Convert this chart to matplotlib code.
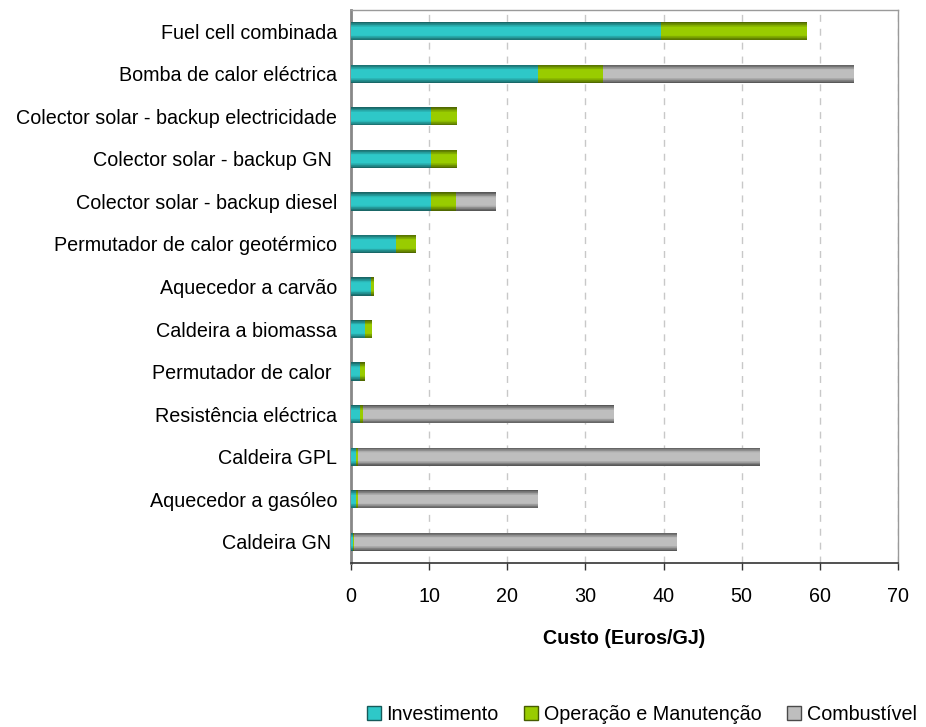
import numpy as np
import matplotlib
matplotlib.use("Agg")
import matplotlib.pyplot as plt
from matplotlib.patches import Patch
from matplotlib.colors import to_rgb

plt.rcParams['font.family'] = ['Liberation Sans', 'DejaVu Sans']

categories = [
    "Fuel cell combinada",
    "Bomba de calor eléctrica",
    "Colector solar - backup electricidade",
    "Colector solar - backup GN ",
    "Colector solar - backup diesel",
    "Permutador de calor geotérmico",
    "Aquecedor a carvão",
    "Caldeira a biomassa",
    "Permutador de calor ",
    "Resistência eléctrica",
    "Caldeira GPL",
    "Aquecedor a gasóleo",
    "Caldeira GN ",
]
investimento = [39.7, 23.9, 10.3, 10.3, 10.3, 5.7, 2.6, 1.85, 1.15, 1.1, 0.7, 0.7, 0.2]
operacao = [18.6, 8.4, 3.3, 3.3, 3.2, 2.6, 0.35, 0.85, 0.65, 0.4, 0.2, 0.17, 0.17]
combustivel = [0.0, 32.1, 0.0, 0.0, 5.0, 0.0, 0.0, 0.0, 0.0, 32.2, 51.5, 23.1, 41.3]
series_names = ["Investimento", "Operação e Manutenção", "Combustível"]
x_ticks = [0, 10, 20, 30, 40, 50, 60, 70]
x_label = "Custo (Euros/GJ)"

# (dark edge, light centre)
shades = [("#165A5A", "#2EC8C8"), ("#465C00", "#99CC00"), ("#4A4A4A", "#BEBEBE")]

FS = 14.2
fig = plt.figure(figsize=(9.26, 7.27), dpi=100)
ax = fig.add_axes([351/926, 1-563/727, (898-351)/926, (563-10)/727])

y = np.arange(len(categories))
bar_h = 0.43
n_layers = 14
left = np.zeros(len(categories))
for vals, (dark, light) in zip([investimento, operacao, combustivel], shades):
    vals = np.array(vals)
    d = np.array(to_rgb(dark)); l = np.array(to_rgb(light))
    for i in range(n_layers):
        frac = i / n_layers
        t = min(1.0, (i + 1) / (n_layers * 0.6))
        col = d + (l - d) * t
        ax.barh(y, vals, left=left, height=bar_h * (1 - frac), color=col,
                edgecolor='none', linewidth=0, zorder=3)
    left = left + vals

ax.set_ylim(len(categories) - 0.5, -0.5)
ax.set_xlim(0, 70)
ax.set_yticks(y)
ax.set_yticklabels(categories, fontsize=FS)
ax.set_xticks(x_ticks)
ax.set_xticklabels([str(v) for v in x_ticks], fontsize=FS)
ax.tick_params(axis='y', length=0, pad=10)
ax.tick_params(axis='x', length=5, width=1, color='#333333', pad=12)
ax.xaxis.grid(True, linestyle=(0, (5, 5)), color='#C8C8C8', linewidth=1, zorder=0)
ax.set_axisbelow(True)
for s in ['top', 'right']:
    ax.spines[s].set_color('#9A9A9A')
    ax.spines[s].set_linewidth(1)
ax.spines['left'].set_color('#888888')
ax.spines['left'].set_linewidth(2)
ax.spines['bottom'].set_color('#333333')
ax.spines['bottom'].set_linewidth(1.2)
ax.set_xlabel(x_label, fontsize=FS, fontweight='bold', labelpad=17)

handles = [Patch(facecolor=l, edgecolor=d, linewidth=1) for d, l in shades]
fig.legend(handles, series_names, loc='center', bbox_to_anchor=(642/926, 1-714/727),
           ncol=3, frameon=False, fontsize=FS, handlelength=0.7, handleheight=0.7,
           handletextpad=0.3, columnspacing=1.3, borderpad=0.2)

fig.savefig("out.png", dpi=100)
